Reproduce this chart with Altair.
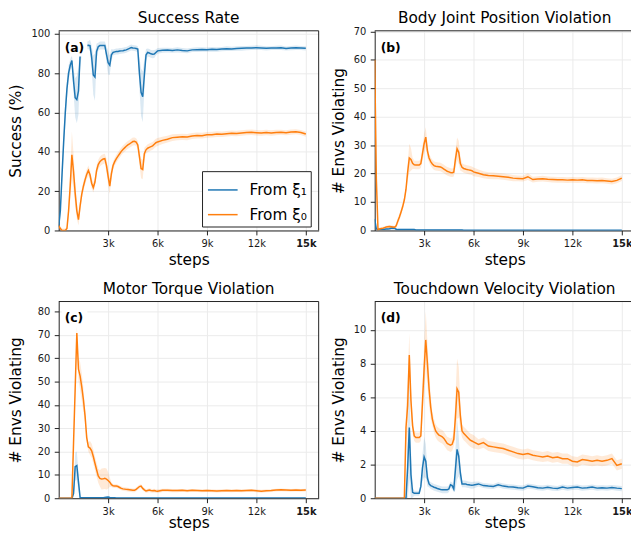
import altair as alt
import pandas as pd

# ---------------- data ----------------
STEPS = list(range(0, 6001, 100)) + list(range(6300, 15001, 300))
SERIES = ["From ξ₁", "From ξ₀"]
BLUE, ORANGE = "#1f77b4", "#ff7f0e"

# (a) Success Rate
A_B = [2, 10, 28, 45, 60, 72, 80, 84, 86.4, 76,
       67.5, 66.5, 71, 89, 92, 93, 93.5, 94, 94.2, 94,
       88, 79, 78, 91, 93.4, 94, 94, 94, 94, 89.5,
       85.3, 84, 89.3, 90.5, 90.8, 91, 91, 91.2, 91.3, 91.4,
       91.6, 91.8, 92.2, 92.6, 93, 92.8, 92.7, 92.5, 92.2, 80,
       70.2, 68, 79, 89.2, 90.5, 90.2, 89.8, 89.6, 89.7, 90.5,
       91.3,
       91.6, 91.7, 91.5, 91.8, 91.5, 91.3, 91.8, 91.9, 92.0, 91.9,
       92.1, 92.0, 92.2, 92.4, 92.3, 92.5, 92.6, 92.7, 92.8, 92.9,
       92.8, 92.6, 92.7, 92.8, 92.9, 92.5, 92.7, 92.9, 92.8, 92.6]
A_B_SD = [1, 3, 5, 6, 6, 5, 4, 3, 3, 6,
          10, 12, 12, 6, 3, 2, 2, 2, 2, 3,
          6, 10, 12, 4, 2, 2, 2, 2, 2, 4,
          6, 5, 3, 1.5, 1.5, 1.5, 1.5, 1.5, 1.5, 1.5,
          1.5, 1.5, 1.5, 1.5, 1.5, 1.5, 1.5, 1.5, 1.5, 8,
          12, 13, 8, 3, 2, 2, 2, 2, 2, 1.5,
          1.5,
          1.3, 1.2, 1.2, 1.3, 1.2, 1.2, 1.1, 1.2, 1.2, 1.1,
          1.2, 1.1, 1.1, 1.2, 1.1, 1.1, 1.2, 1.1, 1.1, 1.2,
          1.1, 1.1, 1.0, 1.1, 1.1, 1.0, 1.1, 1.1, 1.0, 1.1]
A_O = [2.5, 1, 0, 0, 0, 1, 10, 23, 38.5, 30,
       19, 10, 5.5, 12.5, 18.5, 22.5, 25.7, 28.5, 30.5, 28.3,
       24, 21.8, 24.6, 30.5, 33.5, 35, 35.8, 36.3, 36.5, 33,
       27.5, 22.5, 28.9, 33, 35, 36.5, 37.8, 39, 40.2, 41.2,
       42, 42.8, 43.5, 44, 44.6, 45.2, 45.3, 44.9, 43.5, 37.5,
       31.5, 31, 39, 41, 41.8, 42.2, 42.6, 43, 43.8, 44.6,
       45,
       45.8, 46.4, 47.2, 47.4, 47.6, 47.5, 48.0, 48.3, 48.2, 48.6,
       48.7, 49.0, 48.9, 49.2, 49.4, 49.3, 49.6, 49.8, 49.9, 49.7,
       49.5, 49.8, 49.6, 49.8, 49.9, 49.7, 50.0, 50.2, 49.8, 49.0]
A_O_SD = [1, 1, 1, 1, 1, 1, 4, 7, 12, 9,
          6, 4, 3, 3, 2.5, 2.5, 2.5, 2.5, 2.5, 2.5,
          2.5, 2.5, 2.5, 2.5, 2.5, 2.5, 2.5, 2.5, 2.5, 3.5,
          4, 4, 3, 2, 2, 2, 2, 2, 2, 2,
          2, 2, 2, 2, 2, 2, 2, 2, 2, 4,
          5, 5, 3, 2, 2, 2, 2, 2, 2, 2,
          2,
          1.8, 1.7, 1.7, 1.6, 1.6, 1.6, 1.5, 1.5, 1.5, 1.5,
          1.5, 1.5, 1.4, 1.4, 1.4, 1.4, 1.4, 1.4, 1.4, 1.4,
          1.4, 1.4, 1.4, 1.4, 1.3, 1.3, 1.3, 1.3, 1.3, 1.3]

# (b) Body Joint Position Violation
B_B = [4, 0.5, 0.3, 0.4, 0.4, 0.4, 0.4, 0.5, 0.5, 0.6,
       0.8, 0.9, 0.8, 0.4, 0.3, 0.3, 0.3, 0.3, 0.3, 0.3,
       0.3, 0.3, 0.3, 0.3, 0.3, 0.2, 0.2, 0.2, 0.2, 0.2,
       0.2, 0.2, 0.2, 0.2, 0.2, 0.2, 0.2, 0.2, 0.2, 0.2,
       0.2, 0.2, 0.2, 0.2, 0.2, 0.2, 0.2, 0.2, 0.2, 0.2,
       0.2, 0.2, 0.2, 0.2, 0.1, 0.1, 0.1, 0.1, 0.1, 0.1,
       0.1,
       0.1, 0.1, 0.1, 0.1, 0.1, 0.1, 0.1, 0.1, 0.1, 0.1,
       0.1, 0.1, 0.1, 0.1, 0.1, 0.1, 0.1, 0.1, 0.1, 0.1,
       0.1, 0.1, 0.1, 0.1, 0.1, 0.1, 0.1, 0.1, 0.1, 0.1]
B_B_SD = [0.6, 0.4, 0.3, 0.3, 0.3, 0.3, 0.3, 0.4, 0.5, 0.6,
          0.8, 0.8, 0.7, 0.4, 0.3, 0.3, 0.3, 0.3, 0.3, 0.3,
          0.3, 0.3, 0.3, 0.3, 0.3, 0.2, 0.2, 0.2, 0.2, 0.2,
          0.2, 0.2, 0.2, 0.2, 0.2, 0.2, 0.2, 0.2, 0.2, 0.2,
          0.2, 0.2, 0.2, 0.2, 0.2, 0.2, 0.2, 0.2, 0.2, 0.2,
          0.2, 0.2, 0.2, 0.2, 0.1, 0.1, 0.1, 0.1, 0.1, 0.1,
          0.1,
          0.1, 0.1, 0.1, 0.1, 0.1, 0.1, 0.1, 0.1, 0.1, 0.1,
          0.1, 0.1, 0.1, 0.1, 0.1, 0.1, 0.1, 0.1, 0.1, 0.1,
          0.1, 0.1, 0.1, 0.1, 0.1, 0.1, 0.1, 0.1, 0.1, 0.1]
B_O = [60, 18, 0.3, 0.5, 0.7, 0.8, 1.0, 1.2, 1.3, 1.4,
       1.3, 1.2, 1.1, 1.6, 3.2, 4.7, 6.5, 8.4, 10.8, 14.5,
       20.5, 25.5, 25, 23.6, 23.1, 23, 23, 23, 23.5, 27,
       30.5, 32.8, 28, 25.5, 24.2, 23.4, 22.8, 22.6, 22.5, 22.4,
       22.3, 22, 21.6, 21.2, 20.8, 20.6, 20.4, 20.3, 20.5, 25,
       28.7, 27.5, 23.5, 22.2, 21.8, 21.6, 21.4, 21.3, 21.2, 21,
       20.6,
       20.1, 19.6, 19.3, 19.2, 19.1, 18.9, 18.7, 18.4, 18.3, 18.2,
       18.9, 17.9, 18.1, 18.2, 18.0, 17.9, 17.8, 17.8, 17.7, 17.8,
       17.7, 17.8, 17.6, 17.6, 17.5, 17.6, 17.4, 17.2, 17.6, 18.4]
B_O_SD = [1, 1, 0.5, 0.5, 0.5, 0.5, 0.5, 0.5, 0.5, 0.5,
          0.5, 0.5, 0.5, 0.8, 1.2, 1.2, 1.2, 1.2, 1.2, 1.5,
          3, 5, 4, 2, 1.5, 1.5, 1.5, 1.5, 1.5, 2.5,
          3.5, 3.5, 2.5, 1.5, 1.5, 1.5, 1.5, 1.5, 1.5, 1.5,
          1.5, 1.5, 1.5, 1.5, 1.5, 1.5, 1.5, 1.5, 1.5, 3,
          4, 4, 2.5, 1.5, 1.5, 1.5, 1.5, 1.5, 1.5, 1.5,
          1.5,
          1.3, 1.2, 1.2, 1.2, 1.1, 1.1, 1.1, 1.1, 1.0, 1.0,
          1.2, 1.0, 1.0, 1.0, 1.0, 1.0, 1.0, 1.0, 1.0, 1.0,
          1.0, 1.0, 1.0, 1.0, 1.0, 1.0, 1.0, 1.0, 1.0, 1.0]

# (c) Motor Torque Violation
C_B = [0, 0, 0, 0, 0, 0, 0, 0, 0, 2,
       13.5, 14, 7, 0.3, 0.2, 0.2, 0.2, 0.2, 0.2, 0.2,
       0.2, 0.2, 0.2, 0.2, 0.2, 0.2, 0.2, 0.2, 0.3, 0.4,
       0.5, 0.3, 0.2, 0.2, 0.2, 0.15, 0.15, 0.15, 0.15, 0.15,
       0.15, 0.15, 0.15, 0.15, 0.15, 0.15, 0.15, 0.15, 0.15, 0.15,
       0.15, 0.15, 0.15, 0.15, 0.15, 0.15, 0.15, 0.15, 0.15, 0.15,
       0.15,
       0.1, 0.1, 0.1, 0.1, 0.1, 0.1, 0.1, 0.1, 0.1, 0.1,
       0.1, 0.1, 0.1, 0.1, 0.1, 0.1, 0.1, 0.1, 0.1, 0.1,
       0.1, 0.1, 0.1, 0.1, 0.1, 0.1, 0.1, 0.1, 0.1, 0.1]
C_B_SD = [0, 0, 0, 0, 0, 0, 0, 0, 0, 2,
          6, 6, 4, 0.5, 0.2, 0.2, 0.2, 0.2, 0.2, 0.2,
          0.2, 0.2, 0.2, 0.2, 0.2, 0.2, 0.2, 0.2, 0.3, 0.4,
          0.4, 0.3, 0.2, 0.2, 0.2, 0.2, 0.2, 0.2, 0.2, 0.2,
          0.2, 0.2, 0.2, 0.2, 0.2, 0.2, 0.2, 0.2, 0.2, 0.2,
          0.2, 0.2, 0.2, 0.2, 0.2, 0.2, 0.2, 0.2, 0.2, 0.2,
          0.2,
          0.1, 0.1, 0.1, 0.1, 0.1, 0.1, 0.1, 0.1, 0.1, 0.1,
          0.1, 0.1, 0.1, 0.1, 0.1, 0.1, 0.1, 0.1, 0.1, 0.1,
          0.1, 0.1, 0.1, 0.1, 0.1, 0.1, 0.1, 0.1, 0.1, 0.1]
C_O = [0, 0, 0, 0, 0, 0, 0, 0, 0, 23.6,
       47, 70.8, 55.3, 52.3, 47.7, 42.2, 35.3, 26, 22, 21.5,
       20.3, 17.9, 15, 12.2, 9.6, 8.5, 8.2, 8.3, 8.5, 8.2,
       7.6, 6.9, 5.8, 5.3, 5.2, 5.2, 5.0, 4.6, 4.2, 4.0,
       3.9, 3.8, 3.7, 3.6, 3.5, 3.4, 3.4, 3.8, 4.4, 5.0,
       5.2, 4.2, 3.6, 3.1, 3.3, 3.5, 3.3, 3.2, 3.3, 3.1,
       3.0,
       3.4, 3.4, 3.3, 3.3, 3.4, 3.2, 3.4, 3.3, 3.2, 3.3,
       3.2, 3.1, 3.2, 3.3, 3.2, 3.3, 3.2, 3.3, 3.4, 3.2,
       3.0, 3.2, 3.3, 3.5, 3.6, 3.5, 3.4, 3.5, 3.4, 3.5]
C_O_SD = [0, 0, 0, 0, 0, 0, 0, 0, 0, 3,
          3, 3, 5, 6, 6, 5, 3, 2, 2, 3,
          3, 3, 3, 3, 3, 3.5, 4.5, 4.5, 4.5, 4.5,
          3.5, 2, 1, 0.8, 0.8, 0.8, 0.8, 0.8, 0.8, 0.8,
          0.8, 0.8, 0.8, 0.8, 0.8, 0.8, 0.8, 0.8, 0.8, 0.8,
          0.8, 0.8, 0.8, 0.8, 0.8, 0.8, 0.8, 0.8, 0.8, 0.8,
          0.8,
          0.7, 0.7, 0.7, 0.7, 0.6, 0.6, 0.6, 0.6, 0.6, 0.6,
          0.6, 0.6, 0.6, 0.6, 0.6, 0.6, 0.6, 0.6, 0.6, 0.6,
          0.6, 0.6, 0.6, 0.6, 0.6, 0.6, 0.6, 0.6, 0.6, 0.6]

# (d) Touchdown Velocity Violation
D_B = [0, 0, 0, 0, 0, 0, 0, 0, 0, 0,
       0, 0, 0, 0, 0, 0, 0, 0, 0, 0,
       1.8, 4.2, 1.4, 0.35, 0.3, 0.3, 0.3, 0.3, 0.7, 1.8,
       2.45, 2.2, 1.2, 0.85, 0.75, 0.7, 0.65, 0.62, 0.58, 0.55,
       0.52, 0.5, 0.5, 0.5, 0.5, 0.55, 0.8, 0.75, 0.55, 1.7,
       2.9, 2.5, 1.5, 0.85, 0.85, 0.85, 0.82, 0.8, 0.78, 0.77,
       0.78,
       0.85, 0.75, 0.72, 0.7, 0.8, 0.72, 0.68, 0.66, 0.62, 0.6,
       0.72, 0.68, 0.62, 0.6, 0.65, 0.6, 0.58, 0.66, 0.6, 0.64,
       0.66, 0.6, 0.62, 0.66, 0.6, 0.62, 0.6, 0.64, 0.6, 0.57]
D_B_SD = [0, 0, 0, 0, 0, 0, 0, 0, 0, 0,
          0, 0, 0, 0, 0, 0, 0, 0, 0, 0,
          2.0, 3.0, 1.5, 0.3, 0.15, 0.15, 0.15, 0.15, 0.15, 0.8,
          1.2, 1.0, 0.5, 0.2, 0.2, 0.2, 0.2, 0.2, 0.2, 0.2,
          0.2, 0.2, 0.2, 0.2, 0.2, 0.2, 0.2, 0.2, 0.2, 1.2,
          1.8, 1.2, 0.5, 0.2, 0.2, 0.2, 0.2, 0.2, 0.2, 0.2,
          0.2,
          0.15, 0.15, 0.15, 0.15, 0.15, 0.15, 0.15, 0.15, 0.15, 0.15,
          0.15, 0.15, 0.15, 0.15, 0.15, 0.15, 0.15, 0.15, 0.15, 0.15,
          0.15, 0.15, 0.15, 0.15, 0.15, 0.15, 0.15, 0.15, 0.15, 0.15]
D_O = [0, 0, 0, 0, 0, 0, 0, 0, 0, 0,
       0, 0, 0, 0, 0, 0, 0, 0, 0, 4.2,
       5.5, 8.5, 5.8, 4.3, 3.7, 3.6, 3.6, 3.6, 3.7, 5.7,
       7.7, 9.4, 8, 6.5, 5.4, 4.7, 4.3, 4.0, 3.85, 3.75,
       3.7, 3.65, 3.55, 3.4, 3.25, 3.2, 3.15, 3.2, 3.5, 4.8,
       6.5, 6.3, 4.9, 4.0, 3.85, 3.75, 3.65, 3.55, 3.45, 3.4,
       3.35,
       3.2, 3.3, 3.1, 3.05, 3.0, 2.95, 2.85, 2.75, 2.65, 2.6,
       2.65, 2.55, 2.5, 2.45, 2.5, 2.4, 2.45, 2.35, 2.35, 2.2,
       2.15, 2.3, 2.25, 2.2, 2.25, 2.2, 2.25, 2.35, 1.95, 2.05]
D_O_SD = [0, 0, 0, 0, 0, 0, 0, 0, 0, 0,
          0, 0, 0, 0, 0, 0, 0, 0, 0, 1.2,
          1.5, 1.3, 0.8, 0.5, 0.3, 0.3, 0.3, 0.3, 0.3, 1.0,
          1.5, 1.7, 1.3, 1.0, 0.7, 0.4, 0.4, 0.4, 0.4, 0.4,
          0.4, 0.4, 0.4, 0.4, 0.4, 0.4, 0.4, 0.4, 0.4, 1.2,
          1.8, 1.5, 0.8, 0.4, 0.4, 0.4, 0.4, 0.4, 0.4, 0.4,
          0.4,
          0.3, 0.3, 0.3, 0.3, 0.3, 0.3, 0.3, 0.3, 0.3, 0.3,
          0.3, 0.3, 0.3, 0.3, 0.3, 0.3, 0.3, 0.3, 0.3, 0.3,
          0.3, 0.3, 0.3, 0.3, 0.3, 0.3, 0.3, 0.3, 0.3, 0.3]

X_TICKS = [3000, 6000, 9000, 12000, 15000]

# ---------------- styling ----------------
FONT = "DejaVu Sans"
FRAME = "#222222"
PW = 263
PH_TOP, PH_BOT = 202, 199
X_MAX = 15780


def make_df(blue, blue_sd, orange, orange_sd):
    rows = []
    for name, m, s in ((SERIES[0], blue, blue_sd), (SERIES[1], orange, orange_sd)):
        for st, v, d in zip(STEPS, m, s):
            rows.append({"step": st, "series": name, "mean": v, "lo": v - d, "hi": v + d})
    return pd.DataFrame(rows)


def panel(df, title, ylabel, ymax, yticks, yext, xext, xtp, ph, label, legend, right_border):
    xs = alt.Scale(domain=[0, X_MAX], nice=False, zero=False)
    ys = alt.Scale(domain=[0, ymax], nice=False)
    xax = alt.Axis(values=X_TICKS, title="steps",
                   labelExpr="datum.value / 1000 + 'k'",
                   labelFontWeight={"expr": "datum.value == 15000 ? 'bold' : 'normal'"},
                   labelPadding=4.2, titlePadding=xtp, minExtent=xext, maxExtent=xext)
    yax = alt.Axis(values=yticks, title=ylabel, labelPadding=4.5, titlePadding=7.2,
                   minExtent=yext, maxExtent=yext)
    base = alt.Chart(df)
    layers = []
    for name, col in ((SERIES[0], BLUE), (SERIES[1], ORANGE)):
        layers.append(base.transform_filter(alt.datum.series == name)
                      .mark_area(clip=True, fillOpacity=0.16, color=col)
                      .encode(x=alt.X("step:Q", scale=xs, axis=xax),
                              y=alt.Y("lo:Q", scale=ys, axis=yax),
                              y2="hi:Q"))
    for name in SERIES:
        layers.append(base.transform_filter(alt.datum.series == name)
                      .mark_line(clip=True, strokeWidth=1.5)
                      .encode(x=alt.X("step:Q", scale=xs, axis=xax),
                              y=alt.Y("mean:Q", scale=ys, axis=yax),
                              color=alt.Color("series:N",
                                              scale=alt.Scale(domain=SERIES, range=[BLUE, ORANGE]),
                                              legend=legend)))
    one = pd.DataFrame({"label": [label], "title": [title]})
    layers.append(alt.Chart(one).mark_rect(color="white")
                  .encode(x=alt.value(3), x2=alt.value(29), y=alt.value(7), y2=alt.value(26)))
    layers.append(alt.Chart(one).mark_text(font=FONT, fontSize=12.5, fontWeight="bold",
                                           align="left", baseline="middle", color="black")
                  .encode(x=alt.value(6), y=alt.value(17), text="label:N"))
    layers.append(alt.Chart(one).mark_text(font=FONT, fontSize=15.5, align="center",
                                           baseline="alphabetic", color="black")
                  .encode(x=alt.value(131.5), y=alt.value(-7.5), text="title:N"))
    layers.append(alt.Chart(one).mark_rule(color=FRAME, strokeWidth=1)
                  .encode(x=alt.value(0), x2=alt.value(PW), y=alt.value(0)))
    if right_border:
        layers.append(alt.Chart(one).mark_rule(color=FRAME, strokeWidth=1)
                      .encode(x=alt.value(PW), y=alt.value(0), y2=alt.value(ph)))
    return alt.layer(*layers).properties(width=PW, height=ph)


legend_a = alt.Legend(orient="none", legendX=145, legendY=142, title=None,
                      symbolType="stroke", symbolSize=900, symbolStrokeWidth=1.5,
                      symbolOpacity=1, labelFontSize=15.5, labelFont=FONT,
                      labelColor="black", strokeColor=FRAME, fillColor="white",
                      padding=3, rowPadding=0, labelOffset=11, symbolOffset=2,
                      cornerRadius=0)

pa = panel(make_df(A_B, A_B_SD, A_O, A_O_SD), "Success Rate", "Success (%)", 101.5,
           [0, 20, 40, 60, 80, 100], 28.1, 18.7, 4.1, PH_TOP, "(a)", legend_a, True)
pb = panel(make_df(B_B, B_B_SD, B_O, B_O_SD), "Body Joint Position Violation",
           "# Envs Violating", 70.2, [0, 10, 20, 30, 40, 50, 60, 70], 21.7, 18.7, 4.1,
           PH_TOP, "(b)", None, False)
pc = panel(make_df(C_B, C_B_SD, C_O, C_O_SD), "Motor Torque Violation",
           "# Envs Violating", 84.3, [0, 10, 20, 30, 40, 50, 60, 70, 80], 28.1, 17.5, 0,
           PH_BOT, "(c)", None, True)
pd_ = panel(make_df(D_B, D_B_SD, D_O, D_O_SD), "Touchdown Velocity Violation",
            "# Envs Violating", 11.68, [0, 2, 4, 6, 8, 10], 21.7, 17.5, 0,
            PH_BOT, "(d)", None, False)

top = alt.hconcat(pa, pb, spacing=11.7).resolve_scale(color="independent")
bottom = alt.hconcat(pc, pd_, spacing=11.7).resolve_scale(color="independent")
chart = (alt.vconcat(top, bottom, spacing=12.9)
         .resolve_scale(color="independent")
         .properties(padding={"left": 0.3, "top": 0, "right": -5, "bottom": -2})
         .configure_view(stroke=None)
         .configure_axis(domainColor=FRAME, domainWidth=1, tickColor=FRAME, tickSize=4.5,
                         tickWidth=1, labelFont=FONT, labelFontSize=10, labelColor="#1a1a1a",
                         titleFont=FONT, titleFontSize=15.5, titleFontWeight="normal",
                         titleColor="black", gridColor="#ebebeb", gridWidth=1))

chart.save("out.html", embed_options={"renderer": "svg", "actions": False})
